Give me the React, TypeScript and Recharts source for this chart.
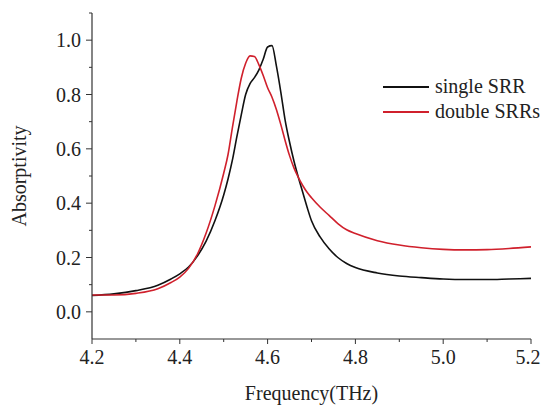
import { LineChart, Line, XAxis, YAxis } from "recharts";

const frequency = [
  4.2, 4.25, 4.3, 4.35, 4.38, 4.4, 4.42, 4.44, 4.46, 4.48, 4.5, 4.51, 4.52, 4.53,
  4.54, 4.55, 4.56, 4.57, 4.58, 4.59, 4.6, 4.61, 4.62, 4.63, 4.64, 4.65, 4.66,
  4.67, 4.68, 4.69, 4.7, 4.72, 4.74, 4.76, 4.78, 4.8, 4.85, 4.9, 4.95, 5.0, 5.05,
  5.1, 5.15, 5.2,
];

const singleSRR = [
  0.06, 0.066, 0.078, 0.098, 0.121, 0.14, 0.165, 0.205, 0.26, 0.335, 0.43, 0.49,
  0.56, 0.645, 0.725, 0.8, 0.84, 0.862, 0.89, 0.93, 0.975, 0.98, 0.905, 0.81,
  0.705, 0.625, 0.555, 0.495, 0.44, 0.385, 0.335, 0.275, 0.232, 0.2, 0.178, 0.163,
  0.143, 0.132, 0.126, 0.121, 0.119, 0.119, 0.121, 0.123,
];

const doubleSRRs = [
  0.062, 0.062, 0.068, 0.085, 0.108, 0.128, 0.16, 0.212, 0.29, 0.39, 0.51, 0.58,
  0.68, 0.775, 0.86, 0.915, 0.942, 0.94, 0.91, 0.87, 0.825, 0.79, 0.745, 0.69,
  0.63, 0.575, 0.53, 0.495, 0.465, 0.44, 0.42, 0.385, 0.355, 0.325, 0.302, 0.288,
  0.262, 0.246, 0.236, 0.23, 0.228, 0.229, 0.233, 0.239,
];

const xMajor = [4.2, 4.4, 4.6, 4.8, 5.0, 5.2];
const xMinor = [4.3, 4.5, 4.7, 4.9, 5.1];
const yMajor = [0, 0.2, 0.4, 0.6, 0.8, 1.0];
const yMinor = [0.1, 0.3, 0.5, 0.7, 0.9, 1.1];

const seriesNames = ["single SRR", "double SRRs"];
const seriesColors = ["#111111", "#d0202c"];

const data = frequency.map((f, i) => ({
  f,
  single: singleSRR[i],
  double: doubleSRRs[i],
}));

const FONT = "'Liberation Serif', 'Times New Roman', serif";
const AXIS = "#333333";

const XTick = ({ x, y, payload }: any) => {
  const minor = xMinor.some((m) => Math.abs(m - payload.value) < 1e-6);
  // last label would spill past the right edge, nudge it in a bit
  const last = Math.abs(payload.value - 5.2) < 1e-6;
  return (
    <g>
      <line x1={x} x2={x} y1={y} y2={y + (minor ? 3 : 5)} stroke={AXIS} strokeWidth={1} />
      {!minor && (
        <text
          x={last ? x - 3 : x}
          y={y + 25}
          textAnchor="middle"
          fontSize={20}
          fontFamily={FONT}
          fill="#222"
        >
          {payload.value.toFixed(1)}
        </text>
      )}
    </g>
  );
};

const YTick = ({ x, y, payload }: any) => {
  const minor = yMinor.some((m) => Math.abs(m - payload.value) < 1e-6);
  return (
    <g>
      <line x1={x} x2={x - (minor ? 3 : 6)} y1={y} y2={y} stroke={AXIS} strokeWidth={1} />
      {!minor && (
        <text x={x - 11} y={y + 7} textAnchor="end" fontSize={20} fontFamily={FONT} fill="#222">
          {payload.value.toFixed(1)}
        </text>
      )}
    </g>
  );
};

const LegendBox = () => (
  <div
    style={{
      position: "absolute",
      left: 383,
      top: 74,
      fontFamily: FONT,
      fontSize: 20,
      color: "#222",
    }}
  >
    {seriesNames.map((name, i) => (
      <div key={name} style={{ display: "flex", alignItems: "center", height: 25 }}>
        <div style={{ width: 46, height: 2, background: seriesColors[i], marginRight: 6 }} />
        <span style={{ whiteSpace: "nowrap" }}>{name}</span>
      </div>
    ))}
  </div>
);

export default function App() {
  return (
    <div style={{ position: "absolute", left: 0, top: 0, width: 541, height: 406, background: "#fff" }}>
      <LineChart
        width={541}
        height={406}
        data={data}
        margin={{ top: 13, right: 10, left: 0, bottom: 0 }}
      >
        <XAxis
          dataKey="f"
          type="number"
          domain={[4.2, 5.2]}
          ticks={[...xMajor, ...xMinor].sort((a, b) => a - b)}
          interval={0}
          height={67}
          tickLine={false}
          tickSize={0}
          tickMargin={0}
          tick={<XTick />}
          axisLine={{ stroke: AXIS, strokeWidth: 1.2 }}
          label={{
            value: "Frequency(THz)",
            position: "insideBottom",
            offset: 6,
            style: { fontFamily: FONT, fontSize: 20, fill: "#222" },
          }}
        />
        <YAxis
          type="number"
          domain={[-0.1, 1.1]}
          ticks={[...yMajor, ...yMinor].sort((a, b) => a - b)}
          interval={0}
          width={92}
          tickLine={false}
          tickSize={0}
          tickMargin={0}
          tick={<YTick />}
          axisLine={{ stroke: AXIS, strokeWidth: 1.2 }}
          label={{
            value: "Absorptivity",
            angle: -90,
            position: "insideLeft",
            offset: 19,
            style: { fontFamily: FONT, fontSize: 20, fill: "#222", textAnchor: "middle" },
          }}
        />
        <Line
          dataKey="single"
          name={seriesNames[0]}
          type="monotone"
          stroke={seriesColors[0]}
          strokeWidth={1.6}
          dot={false}
          isAnimationActive={false}
        />
        <Line
          dataKey="double"
          name={seriesNames[1]}
          type="monotone"
          stroke={seriesColors[1]}
          strokeWidth={1.6}
          dot={false}
          isAnimationActive={false}
        />
      </LineChart>
      <LegendBox />
    </div>
  );
}
